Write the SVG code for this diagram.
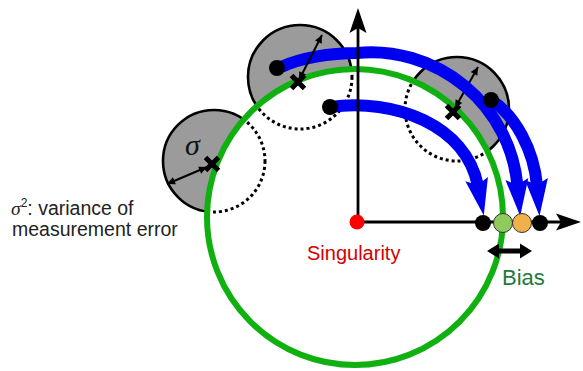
<svg xmlns="http://www.w3.org/2000/svg" xmlns:xlink="http://www.w3.org/1999/xlink" width="583" height="371" viewBox="0 0 583 371">
<style>
.dot{stroke:#000;stroke-width:3;stroke-dasharray:3 3;fill:none}
.disc{fill:#9b9b9b;stroke:#000;stroke-width:2.6}
.x{stroke:#000;stroke-width:5;fill:none}
.blue{stroke:#0000f0;stroke-width:12;fill:none;marker-end:url(#bh)}
.ax{stroke:#000;stroke-width:2.8;fill:none;marker-end:url(#ah)}
.sa{stroke:#000;stroke-width:2;fill:none;marker-start:url(#sh);marker-end:url(#sh)}
.t{font-family:"Liberation Sans",Arial,sans-serif}
</style>
<defs>
<clipPath id="out"><path clip-rule="evenodd" d="M0,0H583V371H0Z M207,217a148,148 0 1,0 296,0a148,148 0 1,0 -296,0Z"/></clipPath>
<clipPath id="in"><circle cx="355" cy="217" r="148"/></clipPath>
<marker id="bh" markerUnits="userSpaceOnUse" orient="auto" refX="0" refY="0" markerWidth="40" markerHeight="40" viewBox="-20 -20 40 40" style="overflow:visible"><path d="M30,0L-7,-11.5L-1,0L-7,11.5Z" fill="#0000f0"/></marker>
<marker id="ah" markerUnits="userSpaceOnUse" orient="auto" refX="0" refY="0" markerWidth="40" markerHeight="40" viewBox="-20 -20 40 40" style="overflow:visible"><path d="M20,0L-5,-8.5L0,0L-5,8.5Z" fill="#000"/></marker>
<marker id="sh" markerUnits="userSpaceOnUse" orient="auto-start-reverse" refX="0" refY="0" markerWidth="20" markerHeight="20" viewBox="-10 -10 20 20" style="overflow:visible"><path d="M0,0L-8,-3.8L-8,3.8Z" fill="#000"/></marker>
<path id="xm" class="x" d="M-6.5,-6.5L6.5,6.5M-6.5,6.5L6.5,-6.5"/>
</defs>

<g id="disc-left">
<circle class="dot" cx="214" cy="161" r="51" clip-path="url(#in)"/>
<circle class="disc" cx="214" cy="161" r="51" clip-path="url(#out)"/>
</g>
<g id="disc-top">
<circle class="dot" cx="300" cy="77" r="52" clip-path="url(#in)"/>
<circle class="disc" cx="300" cy="77" r="52" clip-path="url(#out)"/>
</g>
<g id="disc-right">
<circle class="dot" cx="457" cy="109" r="52" clip-path="url(#in)"/>
<circle class="disc" cx="457" cy="109" r="52" clip-path="url(#out)"/>
</g>

<g id="true-circle">
<circle cx="355" cy="217" r="148" fill="none" stroke="#10b010" stroke-width="6"/>
</g>

<g id="marks">
<use xlink:href="#xm" transform="translate(212,164)"/>
<use xlink:href="#xm" transform="translate(298,82)"/>
<use xlink:href="#xm" transform="translate(453,112)"/>
<path class="sa" d="M207,167L167,184"/>
<path class="sa" d="M455,108L478,67"/>
<text x="185" y="155" font-family="'Liberation Serif',serif" font-style="italic" font-size="30" fill="#111">σ</text>
</g>

<g id="connectors">
<path class="blue" d="M281,67C300,58 330,53 357,53A147,147 0 0 1 517.5,186"/>
<path class="blue" d="M330,107C395,98 466,125 478,186"/>
<path class="blue" d="M491,100C515,115 534,150 537,186"/>
<path class="sa" d="M299,80L322,35"/>
<path class="ax" d="M358,222V28"/>
<path class="ax" d="M358,222H561"/>
</g>

<g id="measurements">
<circle cx="277" cy="68" r="8" fill="#000"/>
<circle cx="330" cy="107" r="8" fill="#000"/>
<circle cx="491" cy="100" r="8" fill="#000"/>
</g>

<g id="estimates">
<circle cx="483" cy="223" r="8" fill="#000"/>
<circle cx="540" cy="223" r="8" fill="#000"/>
<circle cx="503" cy="223" r="9.5" fill="#8fcb5c" stroke="#333" stroke-width="1"/>
<circle cx="522" cy="223" r="9.5" fill="#f2b04a" stroke="#333" stroke-width="1"/>
</g>

<g id="singularity">
<circle cx="357" cy="222" r="7.5" fill="#ff0000"/>
<text class="t" x="307" y="260" font-size="20" fill="#d40000">Singularity</text>
</g>

<g id="bias">
<path d="M487,251L499,243.5L499,248.5L520,248.5L520,243.5L532,251L520,258.5L520,253.5L499,253.5L499,258.5Z" fill="#000"/>
<text class="t" x="502" y="285" font-size="22" fill="#1f7a3c">Bias</text>
</g>

<g id="legend">
<text class="t" x="11" y="215" font-size="19.5" fill="#222"><tspan font-family="'Liberation Serif',serif" font-style="italic">σ</tspan><tspan font-size="12" dy="-8">2</tspan><tspan dy="8">: variance of</tspan></text>
<text class="t" x="12" y="236" font-size="19.5" fill="#222">measurement error</text>
</g>
</svg>
